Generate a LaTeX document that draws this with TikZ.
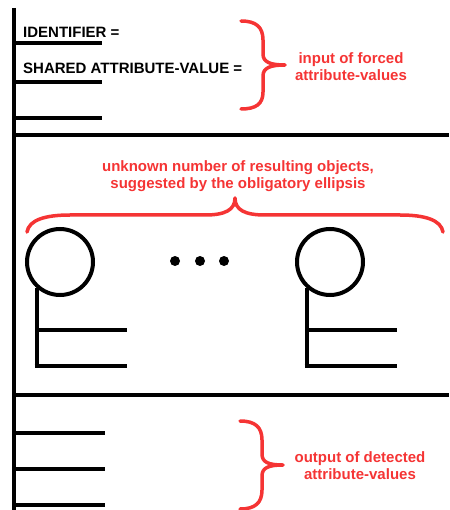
\documentclass[tikz,border=0pt]{standalone}
\usepackage{fontspec}
\setmainfont{Liberation Sans}
\usepackage{tikz}
\usetikzlibrary{calc}
\definecolor{notered}{RGB}{245,52,52}
\tikzset{
  bar/.style={line width=4pt},
  objring/.style={circle, draw, line width=4pt, minimum size=66pt, inner sep=0pt},
  field/.style={anchor=west, inner sep=0pt, font=\bfseries\fontsize{15}{17}\selectfont},
  note/.style={align=center, inner sep=0pt, text=notered, font=\bfseries\fontsize{15}{17}\selectfont},
  curly/.style={draw=notered, line width=3.5pt, line cap=round, line join=round}
}

\begin{document}
\begin{tikzpicture}[x=1pt, y=-1pt]
    \useasboundingbox (0,0) rectangle (449,510);

    % Main spine and dividers
    \draw[bar] (14,8) -- (14,510);
    \draw[bar] (14,135) -- (449,135);
    \draw[bar] (14,395) -- (449,395);

    % ==========================================
    % INPUT SLOTS
    % ==========================================
    \foreach \y in {43,82,118} {
        \draw[bar] (14,\y) -- (102,\y);
    }
    \node[field] (ident) at (23,32) {IDENTIFIER =};
    \node[field] (shared) at (23,68) {SHARED ATTRIBUTE-VALUE =};

    % Brace for the input
    \draw[curly] (241,21) .. controls (256,21) and (263,27) .. (263,40) -- (263,54)
        .. controls (263,62) and (270,65) .. (285,65)
        .. controls (270,65) and (263,68) .. (263,76) -- (263,92)
        .. controls (263,104) and (256,109) .. (241,109);
    \node[note] (inlabel) at (351,66.5) {input of forced\\attribute-values};

    % ==========================================
    % RESULTING OBJECTS
    % ==========================================
    \node[note] (objlabel) at (238,176.5) {unknown number of resulting objects,\\suggested by the obligatory ellipsis};

    % Wide brace over the objects
    \draw[curly] (27,232) .. controls (29,220) and (45,215) .. (70,215) -- (205,215)
        .. controls (225,215) and (235,210) .. (235,198)
        .. controls (235,210) and (245,215) .. (265,215) -- (400,215)
        .. controls (425,215) and (441,220) .. (443,232);

    % First and last object
    \node[objring] (objA) at (60,262) {};
    \node[objring] (objB) at (330,262) {};
    \foreach \o in {objA,objB} {
        \draw[bar] (\o.228) -- (\o.228 |- 0,366) coordinate (\o-foot);
        \draw[bar] ($(\o-foot)+(0,-36)$) -- ++(90,0);
        \draw[bar] ($(\o-foot)+(-2,0)$) -- ++(92,0);
    }

    % Ellipsis
    \foreach \x in {175,200,224} {
        \fill (\x,261) circle (5);
    }

    % ==========================================
    % OUTPUT SLOTS
    % ==========================================
    \foreach \y in {433,469,505} {
        \draw[bar] (14,\y) -- (105,\y);
    }

    % Brace for the output
    \draw[curly] (240,421) .. controls (255,421) and (262,427) .. (262,440) -- (262,454)
        .. controls (262,462) and (268,465) .. (283,465)
        .. controls (268,465) and (262,468) .. (262,476) -- (262,490)
        .. controls (262,503) and (255,509) .. (240,509);
    \node[note] (outlabel) at (360,465.5) {output of detected\\attribute-values};

\end{tikzpicture}
\end{document}
